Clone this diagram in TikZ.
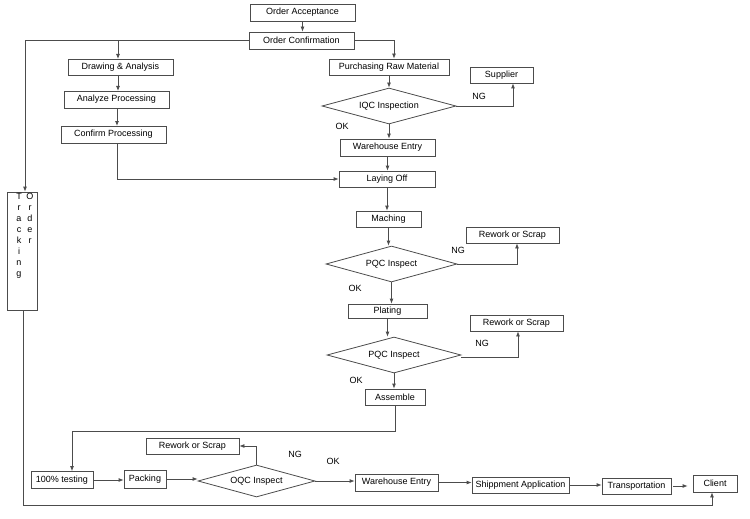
\documentclass[tikz,border=0pt]{standalone}
\usepackage{fontspec}
\setmainfont{Liberation Sans}
\usetikzlibrary{shapes.geometric,arrows.meta}
\begin{document}
\begin{tikzpicture}[x=1pt,y=-1pt,
  box/.style={draw=black!70, line width=0.8pt, rectangle, inner sep=0pt, font=\fontsize{9}{11}\selectfont},
  dia/.style={draw=black!70, line width=0.8pt, diamond, shape aspect=3.7, inner sep=0pt, font=\fontsize{9}{11}\selectfont},
  lbl/.style={inner sep=0pt, font=\fontsize{9}{11}\selectfont},
  ln/.style={draw=black!70, line width=0.8pt},
  arr/.style={ln, -{Latex[length=5pt,width=4pt]}}]
\useasboundingbox (0,0) rectangle (750,519);
% boxes
\node[box, minimum width=105, minimum height=17] (acc) at (302.5,12.5) {Order Acceptance};
\node[box, minimum width=105, minimum height=17] (conf) at (301.5,40.5) {Order Confirmation};
\node[box, minimum width=105, minimum height=16] (drw) at (120.5,67) {Drawing \& Analysis};
\node[box, minimum width=105, minimum height=17] (anlz) at (116.5,99.5) {Analyze Processing};
\node[box, minimum width=105, minimum height=17] (cfmp) at (113.5,134.5) {Confirm Processing};
\node[box, minimum width=120, minimum height=16] (purch) at (389,67) {Purchasing Raw Material};
\node[box, minimum width=63, minimum height=16] (supp) at (501.5,75) {Supplier};
\node[dia, minimum width=134, minimum height=36] (iqc) at (389,106) {IQC Inspection};
\node[box, minimum width=95, minimum height=17] (wh1) at (387.5,147.5) {Warehouse Entry};
\node[box, minimum width=96, minimum height=16] (lay) at (387,179) {Laying Off};
\node[box, minimum width=65, minimum height=16] (mach) at (388.5,219) {Maching};
\node[dia, shape aspect=3.6, minimum width=131, minimum height=36] (pqc1) at (391.5,264) {PQC Inspect};
\node[box, minimum width=93, minimum height=16] (rw1) at (512.5,235) {Rework or Scrap};
\node[box, minimum width=79, minimum height=14] (plat) at (387.5,311) {Plating};
\node[dia, minimum width=134, minimum height=36] (pqc2) at (394,355) {PQC Inspect};
\node[box, minimum width=93, minimum height=16] (rw2) at (516.5,323) {Rework or Scrap};
\node[box, minimum width=60, minimum height=16] (asm) at (395,397) {Assemble};
\node[box, minimum width=62, minimum height=17] (test) at (62,480) {100\% testing};
\node[box, minimum width=42, minimum height=18] (pack) at (145,479) {Packing};
\node[dia, shape aspect=3.65, minimum width=117, minimum height=32] (oqc) at (256.5,481) {OQC Inspect};
\node[box, minimum width=93, minimum height=16] (rw3) at (192.5,446) {Rework or Scrap};
\node[box, minimum width=83, minimum height=17] (wh2) at (396.5,482.5) {Warehouse Entry};
\node[box, minimum width=97, minimum height=16] (ship) at (520.5,485) {Shippment Application};
\node[box, minimum width=69, minimum height=16] (trans) at (636.5,486) {Transportation};
\node[box, minimum width=44, minimum height=17] (client) at (715,483.5) {Client};
\node[box, minimum width=30, minimum height=118] (track) at (22,251) {};
\node[lbl, align=center, anchor=north] (trkA) at (19,193.5) {T\\r\\a\\c\\k\\i\\n\\g};
\node[lbl, align=center, anchor=north] (trkB) at (30,193.5) {O\\r\\d\\e\\r};
% labels
\node[lbl] (ng1) at (479,96) {NG};
\node[lbl] (ok1) at (342,126) {OK};
\node[lbl] (ng2) at (458,250) {NG};
\node[lbl] (ok2) at (355,288) {OK};
\node[lbl] (ng3) at (482,343) {NG};
\node[lbl] (ok3) at (356,380) {OK};
\node[lbl] (ng4) at (295,454) {NG};
\node[lbl] (ok4) at (333,461) {OK};
% connectors
\draw[arr] (acc.south) -- (acc.south |- conf.north);
\draw[arr] (conf.west) -| ([xshift=3pt]track.north);
\draw[arr] (118,40.5) -- (118,59);
\draw[arr] (118,75) -- (118,91);
\draw[arr] (117,108) -- (117,126);
\draw[arr] ([xshift=3.5pt]cfmp.south) |- (lay.west);
\draw[arr] (conf.east) -| ([xshift=5pt]purch.north);
\draw[arr] (purch.south) -- (iqc.north);
\draw[arr] (iqc.east) -| ([xshift=11.5pt]supp.south);
\draw[arr] (iqc.south) -- (iqc.south |- wh1.north);
\draw[arr] (wh1.south) -- (wh1.south |- lay.north);
\draw[arr] (lay.south) -- (lay.south |- mach.north);
\draw[arr] (mach.south) -- (mach.south |- pqc1.north);
\draw[arr] (pqc1.east) -| ([xshift=4.5pt]rw1.south);
\draw[arr] (pqc1.south) -- (pqc1.south |- plat.north);
\draw[arr] (plat.south) -- (plat.south |- pqc2.north);
\draw[arr] ([yshift=-2pt]pqc2.east) -| ([xshift=1.5pt]rw2.south);
\draw[arr] (pqc2.south) -- (pqc2.south |- asm.north);
\draw[arr] (asm.south) -- ++(0,26) -| ([xshift=10pt]test.north);
\draw[arr] (test.east) -- (test.east -| pack.west);
\draw[arr] (pack.east) -- (pack.east -| oqc.west);
\draw[arr] (oqc.north) |- (rw3.east);
\draw[arr] (oqc.east) -- (oqc.east -| wh2.west);
\draw[arr] (wh2.east) -- (wh2.east -| ship.west);
\draw[arr] (ship.east) -- (ship.east -| trans.west);
\draw[arr] ([xshift=2pt]trans.east) -- ([xshift=-5pt]trans.east -| client.west);
\draw[arr] ([xshift=1pt]track.south) -- (23,505) -| ([xshift=-3pt]client.south);
\end{tikzpicture}
\end{document}
